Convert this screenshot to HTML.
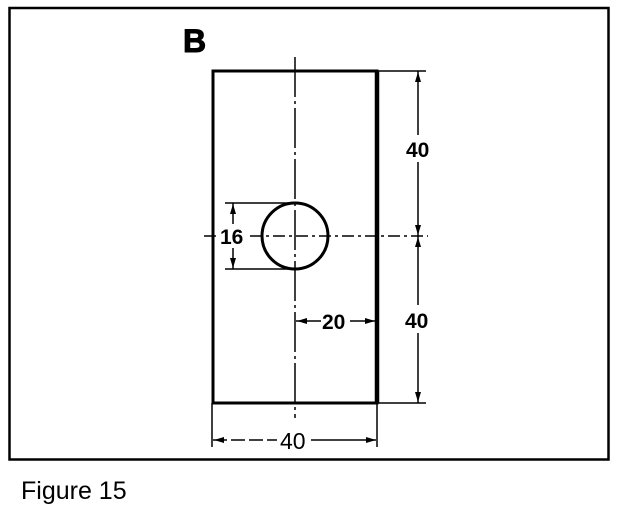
<!DOCTYPE html>
<html><head><meta charset="utf-8"><style>
html,body{margin:0;padding:0;background:#fff;}
svg{display:block;}
text{font-family:"Liberation Sans",sans-serif;fill:#000;}
</style></head><body>
<svg width="624" height="510" viewBox="0 0 624 510" xmlns="http://www.w3.org/2000/svg">
<rect x="9.5" y="8" width="599" height="451.5" fill="none" stroke="#000" stroke-width="2.5"/>
<text x="183" y="52" font-size="32" font-weight="bold" stroke="#000" stroke-width="1">B</text>
<rect x="213" y="71" width="164" height="332" fill="none" stroke="#000" stroke-width="3"/>
<line x1="377" y1="71" x2="377" y2="403" stroke="#000" stroke-width="4.5"/>
<line x1="295" y1="57" x2="295" y2="418" stroke="#000" stroke-width="1.5" stroke-dasharray="40,4,3,4"/>
<line x1="204" y1="236" x2="428" y2="236" stroke="#000" stroke-width="1.5" stroke-dasharray="12,4,3,4"/>
<circle cx="295" cy="236" r="33" fill="none" stroke="#000" stroke-width="3"/>
<line x1="377" y1="71" x2="426" y2="71" stroke="#000" stroke-width="1.5"/>
<line x1="377" y1="403" x2="426" y2="403" stroke="#000" stroke-width="1.5"/>
<line x1="418" y1="71" x2="418" y2="135" stroke="#000" stroke-width="1.5"/>
<line x1="418" y1="162" x2="418" y2="305" stroke="#000" stroke-width="1.5"/>
<line x1="418" y1="333" x2="418" y2="403" stroke="#000" stroke-width="1.5"/>
<polygon points="418,72 415,82 421,82" fill="#000"/>
<polygon points="418,235 415,225 421,225" fill="#000"/>
<polygon points="418,237 415,247 421,247" fill="#000"/>
<polygon points="418,402 415,392 421,392" fill="#000"/>
<text x="406" y="157" font-size="21" font-weight="bold">40</text>
<text x="405" y="328" font-size="21" font-weight="bold">40</text>
<line x1="225" y1="203" x2="290" y2="203" stroke="#000" stroke-width="1.5"/>
<line x1="225" y1="269" x2="290" y2="269" stroke="#000" stroke-width="1.5"/>
<line x1="233" y1="203" x2="233" y2="224" stroke="#000" stroke-width="1.5"/>
<line x1="233" y1="248" x2="233" y2="269" stroke="#000" stroke-width="1.5"/>
<polygon points="233,204 230,214 236,214" fill="#000"/>
<polygon points="233,268 230,258 236,258" fill="#000"/>
<rect x="219" y="225" width="28" height="22" fill="#fff"/>
<text x="220" y="244" font-size="21" font-weight="bold">16</text>
<line x1="296" y1="321" x2="321" y2="321" stroke="#000" stroke-width="1.5"/>
<line x1="350" y1="321" x2="375" y2="321" stroke="#000" stroke-width="1.5"/>
<polygon points="297,321 307,318 307,324" fill="#000"/>
<polygon points="375,321 365,318 365,324" fill="#000"/>
<text x="322" y="329" font-size="21" font-weight="bold">20</text>
<line x1="212" y1="403" x2="212" y2="447" stroke="#000" stroke-width="1.5"/>
<line x1="377" y1="403" x2="377" y2="447" stroke="#000" stroke-width="1.5"/>
<line x1="213" y1="440" x2="277" y2="440" stroke="#000" stroke-width="1.5" stroke-dasharray="14,4"/>
<line x1="311" y1="440" x2="376" y2="440" stroke="#000" stroke-width="1.5"/>
<polygon points="214,440 224,437 224,443" fill="#000"/>
<polygon points="376,440 366,437 366,443" fill="#000"/>
<text x="280" y="449" font-size="23">40</text>
<text x="21" y="499" font-size="25">Figure 15</text>
</svg>
</body></html>
